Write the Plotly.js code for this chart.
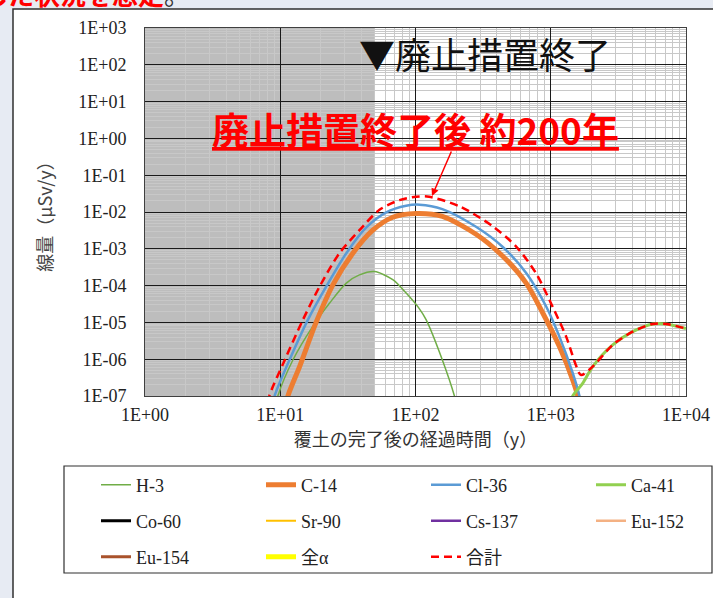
<!DOCTYPE html>
<html>
<head>
<meta charset="utf-8">
<script src="https://cdn.plot.ly/plotly-3.0.1.min.js"></script>
<style>
html,body{margin:0;padding:0;background:#e7ebf3;overflow:hidden;}
#chart{width:713px;height:598px;}
</style>
</head>
<body>
<div id="chart"></div>
<script>
// ---- axis ticks ----
const tickYears = [1, 10, 100, 1000, 10000];
const tickYearLabels = ['1E+00', '1E+01', '1E+02', '1E+03', '1E+04'];
const tickDoses = [1e-7, 1e-6, 1e-5, 1e-4, 1e-3, 1e-2, 1e-1, 1e0, 1e1, 1e2, 1e3];
const tickDoseLabels = ['1E-07', '1E-06', '1E-05', '1E-04', '1E-03', '1E-02', '1E-01', '1E+00', '1E+01', '1E+02', '1E+03'];

// ---- series (years after cover completion, dose in μSv/y) ----
const h3Years = [8.9, 9.6, 12.4, 17.4, 23.1, 30.8, 38.5, 49.8, 67.9, 85.3, 106, 120, 158, 194, 210];
const h3Dose  = [3e-8, 1e-7, 9.5e-7, 7.8e-6, 3.3e-5, 1.17e-4, 1.95e-4, 2.4e-4, 1.45e-4, 6.3e-5, 2.45e-5, 1.17e-5, 9.5e-7, 1e-7, 3e-8];

const c14Years = [10.7, 11.4, 13.9, 18.5, 24.5, 34.4, 48.3, 67.9, 101, 158, 282, 442, 658, 873, 1159, 1455, 1585, 1660];
const c14Dose  = [3e-8, 1e-7, 6.3e-7, 1.05e-5, 1.05e-4, 7.6e-4, 3.2e-3, 7.2e-3, 9.1e-3, 7.6e-3, 2.45e-3, 6.3e-4, 1.17e-4, 1.8e-5, 2.2e-6, 2.7e-7, 1e-7, 4e-8];

const cl36Years = [8.5, 9.08, 11.7, 16.0, 21.9, 30.8, 43.3, 60.7, 85.3, 107, 158, 282, 442, 658, 925, 1159, 1455, 1630, 1700];
const cl36Dose  = [3e-8, 1e-7, 9.5e-7, 1.17e-5, 9.5e-5, 7.6e-4, 3.8e-3, 9.8e-3, 1.48e-2, 1.58e-2, 1.2e-2, 3.9e-3, 1.12e-3, 2.2e-4, 2.7e-5, 4.1e-6, 4.2e-7, 1e-7, 4e-8];

const ca41Years = [1380, 1455, 1722, 2042, 2871, 4036, 5675, 7129, 10000];
const ca41Dose  = [4e-8, 1e-7, 2.2e-7, 6.3e-7, 2.45e-6, 5.6e-6, 9.1e-6, 9.1e-6, 6.8e-6];

// nuclides whose dose stays below the plotted range (no visible curve)
const co60Years = [1];   const co60Dose = [null];
const sr90Years = [1];   const sr90Dose = [null];
const cs137Years = [1];  const cs137Dose = [null];
const eu152Years = [1];  const eu152Dose = [null];
const eu154Years = [1];  const eu154Dose = [null];
const alphaYears = [1];  const alphaDose = [null];

const totalYears = [7.8, 8.3, 10.8, 14.7, 19.5, 27.4, 38.5, 54.2, 76.2, 101, 126, 214, 372, 555, 776, 1030, 1300, 1549, 1675, 2042, 2871, 4036, 5675, 7129, 10000];
const totalDose  = [3e-8, 1e-7, 9.5e-7, 1.17e-5, 9.3e-5, 7.6e-4, 3.2e-3, 1.15e-2, 2.1e-2, 2.6e-2, 2.6e-2, 1.4e-2, 4.1e-3, 1.15e-3, 2.2e-4, 2.7e-5, 4.1e-6, 6.3e-7, 3.7e-7, 6.3e-7, 2.45e-6, 5.6e-6, 9.1e-6, 9.1e-6, 6.8e-6];

// ---- layout helpers (pixel -> paper) ----
const W = 713, H = 598;
const M = {l: 145, r: 27, t: 28, b: 202};
const PW = W - M.l - M.r, PH = H - M.t - M.b;
const px = x => (x - M.l) / PW;
const py = y => (H - M.b - y) / PH;

const serif = 'Liberation Serif, Noto Sans CJK JP, serif';
const jp = 'Noto Sans CJK JP, sans-serif';

function tr(name, xs, ys, color, width, legend, dash) {
  return {
    type: 'scatter', mode: 'lines', name: name, x: xs, y: ys,
    line: {color: color, width: width, shape: 'spline', smoothing: 0.8, dash: dash || 'solid'},
    legend: legend, hoverinfo: 'skip', connectgaps: false
  };
}

const traces = [
  tr('H-3', h3Years, h3Dose, '#70AD47', 1.5, 'legend'),
  tr('C-14', c14Years, c14Dose, '#ED7D31', 5, 'legend'),
  tr('Cl-36', cl36Years, cl36Dose, '#5B9BD5', 2.5, 'legend'),
  tr('Ca-41', ca41Years, ca41Dose, '#92D050', 3, 'legend'),
  tr('Co-60', co60Years, co60Dose, '#000000', 3, 'legend2'),
  tr('Sr-90', sr90Years, sr90Dose, '#FFC000', 2, 'legend2'),
  tr('Cs-137', cs137Years, cs137Dose, '#7030A0', 2.5, 'legend2'),
  tr('Eu-152', eu152Years, eu152Dose, '#F4B183', 2.5, 'legend2'),
  tr('Eu-154', eu154Years, eu154Dose, '#A9522B', 3, 'legend3'),
  tr('全α', alphaYears, alphaDose, '#FFFF00', 5, 'legend3'),
  tr('合計', totalYears, totalDose, '#FF0000', 2.5, 'legend3', '8px,5px')
];
traces[3].legendwidth = 60;
traces[7].legendwidth = 60;

const legendBase = {
  orientation: 'h', xanchor: 'left', yanchor: 'middle',
  bgcolor: 'rgba(0,0,0,0)', borderwidth: 0,
  font: {family: serif, size: 18, color: '#222'},
  entrywidth: 120, entrywidthmode: 'pixels', traceorder: 'normal'
};

const layout = {
  width: W, height: H,
  margin: M,
  paper_bgcolor: '#e7ebf3',
  plot_bgcolor: '#ffffff',
  showlegend: true,
  hovermode: false,
  xaxis: {
    type: 'log', range: [0, 4],
    tickmode: 'array', tickvals: tickYears, ticktext: tickYearLabels,
    showgrid: true, gridcolor: '#1a1a1a', gridwidth: 1,
    minor: {dtick: 'D1', showgrid: true, gridcolor: '#c8c8c8', gridwidth: 1},
    showline: true, mirror: true, linecolor: '#404040', linewidth: 1,
    ticks: '', zeroline: false, ticklabelstandoff: 2,
    tickfont: {family: serif, size: 18, color: '#222'},
    title: {text: '覆土の完了後の経過時間（y）', font: {family: jp, size: 18, color: '#333'}, standoff: 8}
  },
  yaxis: {
    type: 'log', range: [-7, 3],
    tickmode: 'array', tickvals: tickDoses, ticktext: tickDoseLabels,
    showgrid: true, gridcolor: '#1a1a1a', gridwidth: 1,
    minor: {dtick: 'D1', showgrid: true, gridcolor: '#c8c8c8', gridwidth: 1},
    showline: true, mirror: true, linecolor: '#404040', linewidth: 1,
    ticks: '', zeroline: false, ticklabelstandoff: 14,
    tickfont: {family: serif, size: 18, color: '#222'},
    title: {text: '線量（μSv/y）', font: {family: jp, size: 18, color: '#444'}, standoff: 20}
  },
  legend: Object.assign({}, legendBase, {x: px(96), y: py(485)}),
  legend2: Object.assign({}, legendBase, {x: px(96), y: py(521)}),
  legend3: Object.assign({}, legendBase, {x: px(96), y: py(557)}),
  shapes: [
    {type: 'rect', xref: 'paper', yref: 'paper', x0: px(13), x1: px(760), y0: py(700), y1: py(9),
     fillcolor: '#ffffff', line: {color: '#303030', width: 1.5}, layer: 'below'},
    {type: 'rect', xref: 'paper', yref: 'paper', x0: 0, x1: Math.log10(50) / 4, y0: 0, y1: 1,
     fillcolor: '#bdbdbd', line: {width: 0}, layer: 'below'},
    {type: 'rect', xref: 'paper', yref: 'paper', x0: px(64), x1: px(712), y0: py(573), y1: py(466),
     fillcolor: 'rgba(0,0,0,0)', line: {color: '#303030', width: 1.2}, layer: 'above'}
  ],
  annotations: [
    {xref: 'paper', yref: 'paper', x: px(192), y: py(14), xanchor: 'right', yanchor: 'bottom',
     text: '<span style="color:#ff0000"><b>した状況を想定</b></span>。', showarrow: false,
     font: {family: jp, size: 26, color: '#333'}},
    {xref: 'paper', yref: 'paper', x: px(485), y: py(53), xanchor: 'center', yanchor: 'middle',
     text: '▼廃止措置終了', showarrow: false, font: {family: jp, size: 36, color: '#111'}},
    {xref: 'paper', yref: 'paper', x: px(415), y: py(129), xanchor: 'center', yanchor: 'middle',
     text: '<b><u>廃止措置終了後 約200年</u></b>', showarrow: false, font: {family: jp, size: 37, color: '#ff0000'}},
    {xref: 'paper', yref: 'paper', x: px(432), y: py(196), text: '', showarrow: true,
     ax: 20, ay: -46, arrowhead: 2, arrowsize: 1, arrowwidth: 1.5, arrowcolor: '#ff0000'}
  ]
};

Plotly.newPlot('chart', traces, layout, {displayModeBar: false, staticPlot: true});
</script>
</body>
</html>
